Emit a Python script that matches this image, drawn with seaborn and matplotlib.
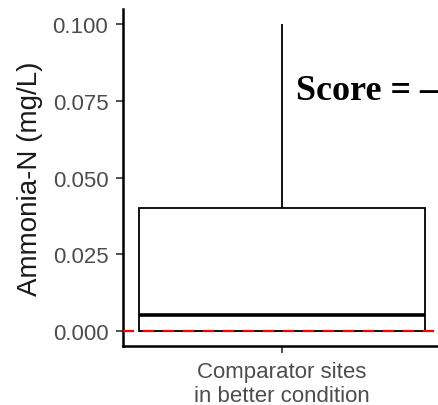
import numpy as np
import pandas as pd
import matplotlib
matplotlib.use("Agg")
import matplotlib.pyplot as plt
import seaborn as sns

# values (min, q1, median, q3, max)
group_label = "Comparator sites\nin better condition"
ammonia_values = [0.0, 0.0, 0.005, 0.04, 0.1]
y_ticks = [0.000, 0.025, 0.050, 0.075, 0.100]
reference_level = 0.0
score_text = "Score = \u2013"

df = pd.DataFrame({"group": [group_label] * len(ammonia_values),
                   "ammonia": ammonia_values})

sns.set_style("ticks")
plt.rcParams['font.family'] = ['Liberation Sans', 'DejaVu Sans']

fig = plt.figure(figsize=(4.39, 4.06), dpi=100)
ax = fig.add_axes([0.280, 0.1453, 0.725, 0.8300])

sns.boxplot(data=df, x="group", y="ammonia", ax=ax, width=0.9, whis=(0, 100),
            color="white", linecolor="black", linewidth=1.3,
            medianprops=dict(linewidth=2.6, color="black"),
            capprops=dict(linewidth=0), showcaps=False, fliersize=0)

ax.axhline(reference_level, color="#ff0000", linestyle=(0, (5, 4)), linewidth=1.6, zorder=5)

ax.set_xlim(-0.5, 0.5)
ax.set_ylim(-0.005, 0.105)
ax.set_yticks(y_ticks)
ax.set_yticklabels([f"{t:.3f}" for t in y_ticks])

ax.set_xlabel("")
ax.set_ylabel("Ammonia-N (mg/L)", fontsize=20, color="#1a1a1a", labelpad=7)
ax.tick_params(axis="both", labelsize=16, labelcolor="#4d4d4d", color="#333333",
               length=5, width=1.2)
ax.tick_params(axis="y", pad=5.5)
ax.tick_params(axis="x", pad=6)

for side in ["top", "right"]:
    ax.spines[side].set_visible(False)
for side in ["left", "bottom"]:
    ax.spines[side].set_linewidth(1.8)
    ax.spines[side].set_color("black")

ax.text(0.045, 0.0755, score_text, fontsize=26, fontweight="bold",
        family="Liberation Serif", ha="left", va="baseline", color="black")

fig.savefig("out.png", dpi=100)
